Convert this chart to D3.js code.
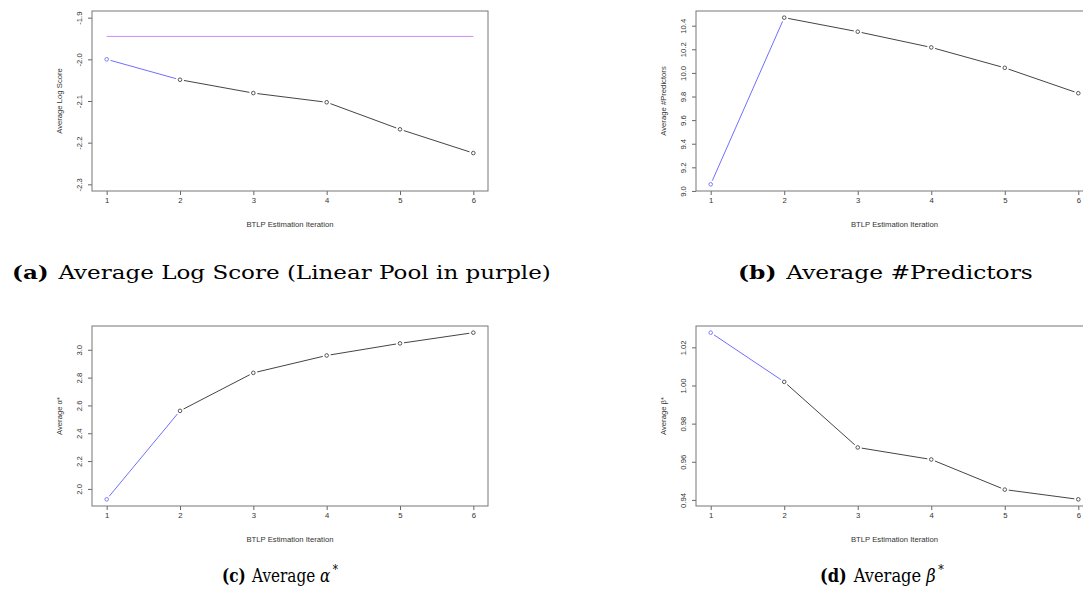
<!DOCTYPE html>
<html>
<head>
<meta charset="utf-8">
<script src="https://cdnjs.cloudflare.com/ajax/libs/d3/7.8.5/d3.min.js"></script>
<style>
  body { margin: 0; background: #fff; }
  svg { display: block; }
</style>
</head>
<body>
<div id="chart-area"></div>
<script>
// BTLP estimation results, four small panels

const iterations = [1, 2, 3, 4, 5, 6]
const logScore = [-2.000, -2.049, -2.081, -2.103, -2.168, -2.225]
const linearPool = -1.945
const predictors = [9.056, 10.468, 10.349, 10.216, 10.043, 9.828]
const alphaStar = [1.925, 2.561, 2.834, 2.959, 3.046, 3.123]
const betaStar = [1.0277, 1.0019, 0.9675, 0.9612, 0.9454, 0.9403]

const logScoreTicks = [-1.9, -2.0, -2.1, -2.2, -2.3]
const predictorTicks = [9.0, 9.2, 9.4, 9.6, 9.8, 10.0, 10.2, 10.4]
const alphaTicks = [2.0, 2.2, 2.4, 2.6, 2.8, 3.0]
const betaTicks = [0.94, 0.96, 0.98, 1.00, 1.02]

const WIDTH = 1083, HEIGHT = 601
const TICK_FONT = "Liberation Sans, Arial, sans-serif"
const CAP_FONT = "DejaVu Serif, Liberation Serif, serif"

const svg = d3.select("#chart-area").append("svg")
    .attr("width", WIDTH)
    .attr("height", HEIGHT)

// R prints a plain hyphen for negatives
const rFmt = spec => {
  const f = d3.format(spec)
  return d => f(d).replace("\u2212", "-")
}

const panels = [
  {values: logScore, ticks: logScoreTicks, fmt: rFmt(".1f"), ylim: [-2.3, -1.9],
   ylab: "Average Log Score", box: {x0: 92, x1: 488, y0: 11, y1: 191}, pool: linearPool},
  {values: predictors, ticks: predictorTicks, fmt: rFmt(".1f"),
   ylab: "Average #Predictors", box: {x0: 696, x1: 1093, y0: 11, y1: 191}},
  {values: alphaStar, ticks: alphaTicks, fmt: rFmt(".1f"),
   ylab: "Average \u03B1*", box: {x0: 92, x1: 488, y0: 326, y1: 506}},
  {values: betaStar, ticks: betaTicks, fmt: rFmt(".2f"),
   ylab: "Average \u03B2*", box: {x0: 696, x1: 1093, y0: 326, y1: 506}}
]

// R style 4% padding on both axes
function pad(lim) {
  const r = lim[1] - lim[0]
  return [lim[0] - 0.04 * r, lim[1] + 0.04 * r]
}

function shorten(a, b, gap) {
  const dx = b[0] - a[0], dy = b[1] - a[1]
  const len = Math.sqrt(dx * dx + dy * dy)
  const ux = dx / len, uy = dy / len
  return [[a[0] + ux * gap, a[1] + uy * gap], [b[0] - ux * gap, b[1] - uy * gap]]
}

panels.forEach(p => {
  const b = p.box
  const x = d3.scaleLinear()
      .domain(pad(d3.extent(iterations)))
      .range([b.x0, b.x1])
  const y = d3.scaleLinear()
      .domain(pad(p.ylim || d3.extent(p.values)))
      .range([b.y1, b.y0])

  const g = svg.append("g")

  // x axis
  const xAxis = g.append("g")
      .attr("transform", `translate(0, ${b.y1})`)
      .call(d3.axisBottom(x).tickValues(iterations).tickSize(4).tickPadding(3).tickFormat(d3.format("d")))
  xAxis.select(".domain").remove()
  xAxis.selectAll("line").attr("stroke", "#666")
  xAxis.selectAll("text")
      .attr("font-family", TICK_FONT)
      .attr("font-size", "7.7px")
      .attr("fill", "#333")

  // y axis, labels parallel to the axis
  const yAxis = g.append("g")
      .attr("transform", `translate(${b.x0}, 0)`)
      .call(d3.axisLeft(y).tickValues(p.ticks).tickSize(4).tickFormat(p.fmt))
  yAxis.select(".domain").remove()
  yAxis.selectAll("line").attr("stroke", "#666")
  yAxis.selectAll("text")
      .attr("font-family", TICK_FONT)
      .attr("font-size", "7.7px")
      .attr("fill", "#333")
      .attr("x", null).attr("dy", null)
      .attr("text-anchor", "middle")
      .attr("transform", "translate(-10, 0) rotate(-90)")

  // frame
  g.append("rect")
      .attr("x", b.x0).attr("y", b.y0)
      .attr("width", b.x1 - b.x0).attr("height", b.y1 - b.y0)
      .attr("fill", "none")
      .attr("stroke", "#777")
      .attr("stroke-width", 1)

  // axis titles
  g.append("text")
      .attr("x", (b.x0 + b.x1) / 2)
      .attr("y", b.y1 + 36)
      .attr("text-anchor", "middle")
      .attr("font-family", TICK_FONT)
      .attr("font-size", "7.7px")
      .attr("fill", "#333")
      .text("BTLP Estimation Iteration")

  g.append("text")
      .attr("transform", `translate(${b.x0 - 30}, ${(b.y0 + b.y1) / 2}) rotate(-90)`)
      .attr("text-anchor", "middle")
      .attr("font-family", TICK_FONT)
      .attr("font-size", "7.7px")
      .attr("fill", "#333")
      .text(p.ylab)

  // linear pool reference
  if (p.pool !== undefined) {
    g.append("line")
        .attr("x1", x(iterations[0])).attr("x2", x(iterations[iterations.length - 1]))
        .attr("y1", y(p.pool)).attr("y2", y(p.pool))
        .attr("stroke", "#c98cf7")
        .attr("stroke-width", 1)
  }

  // segments with gaps around the points (type = "b")
  const pts = iterations.map((d, i) => [x(d), y(p.values[i])])
  for (let i = 0; i < pts.length - 1; i++) {
    const s = shorten(pts[i], pts[i + 1], 4)
    g.append("line")
        .attr("x1", s[0][0]).attr("y1", s[0][1])
        .attr("x2", s[1][0]).attr("y2", s[1][1])
        .attr("stroke", i === 0 ? "#6f6fff" : "#444")
        .attr("stroke-width", 1)
  }

  g.selectAll("circle")
    .data(p.values)
    .enter().append("circle")
      .attr("cx", (d, i) => x(iterations[i]))
      .attr("cy", d => y(d))
      .attr("r", 1.8)
      .attr("fill", "none")
      .attr("stroke", (d, i) => i === 0 ? "#6f6fff" : "#444")
      .attr("stroke-width", 0.9)
})

// subfigure captions, squeezed/stretched horizontally to the width in the figure
const captions = [
  {tag: "(a)", text: "Average Log Score (Linear Pool in purple)", x: 12, y: 279, w: 539},
  {tag: "(b)", text: "Average #Predictors", x: 738, y: 279, w: 295},
  {tag: "(c)", text: "Average ", sym: "\u03B1", x: 222, y: 582, w: 116},
  {tag: "(d)", text: "Average ", sym: "\u03B2", x: 820, y: 582, w: 124}
]

captions.forEach(c => {
  const cg = svg.append("g")
  const t = cg.append("text")
      .attr("x", 0).attr("y", 0)
      .attr("font-family", CAP_FONT)
      .attr("font-size", "19px")
      .attr("fill", "#000")
  t.append("tspan").attr("font-weight", "bold").text(c.tag)
  t.append("tspan").attr("dx", 8).text(c.text)
  let extra = 8
  if (c.sym) {
    t.append("tspan").attr("font-style", "italic").text(c.sym)
    t.append("tspan").attr("dx", 3).attr("dy", -8).attr("font-size", "13px").text("*")
    extra += 3
  }
  const natural = t.node().getComputedTextLength() + extra
  cg.attr("transform", `translate(${c.x}, ${c.y}) scale(${c.w / natural}, 1)`)
})
</script>
</body>
</html>
